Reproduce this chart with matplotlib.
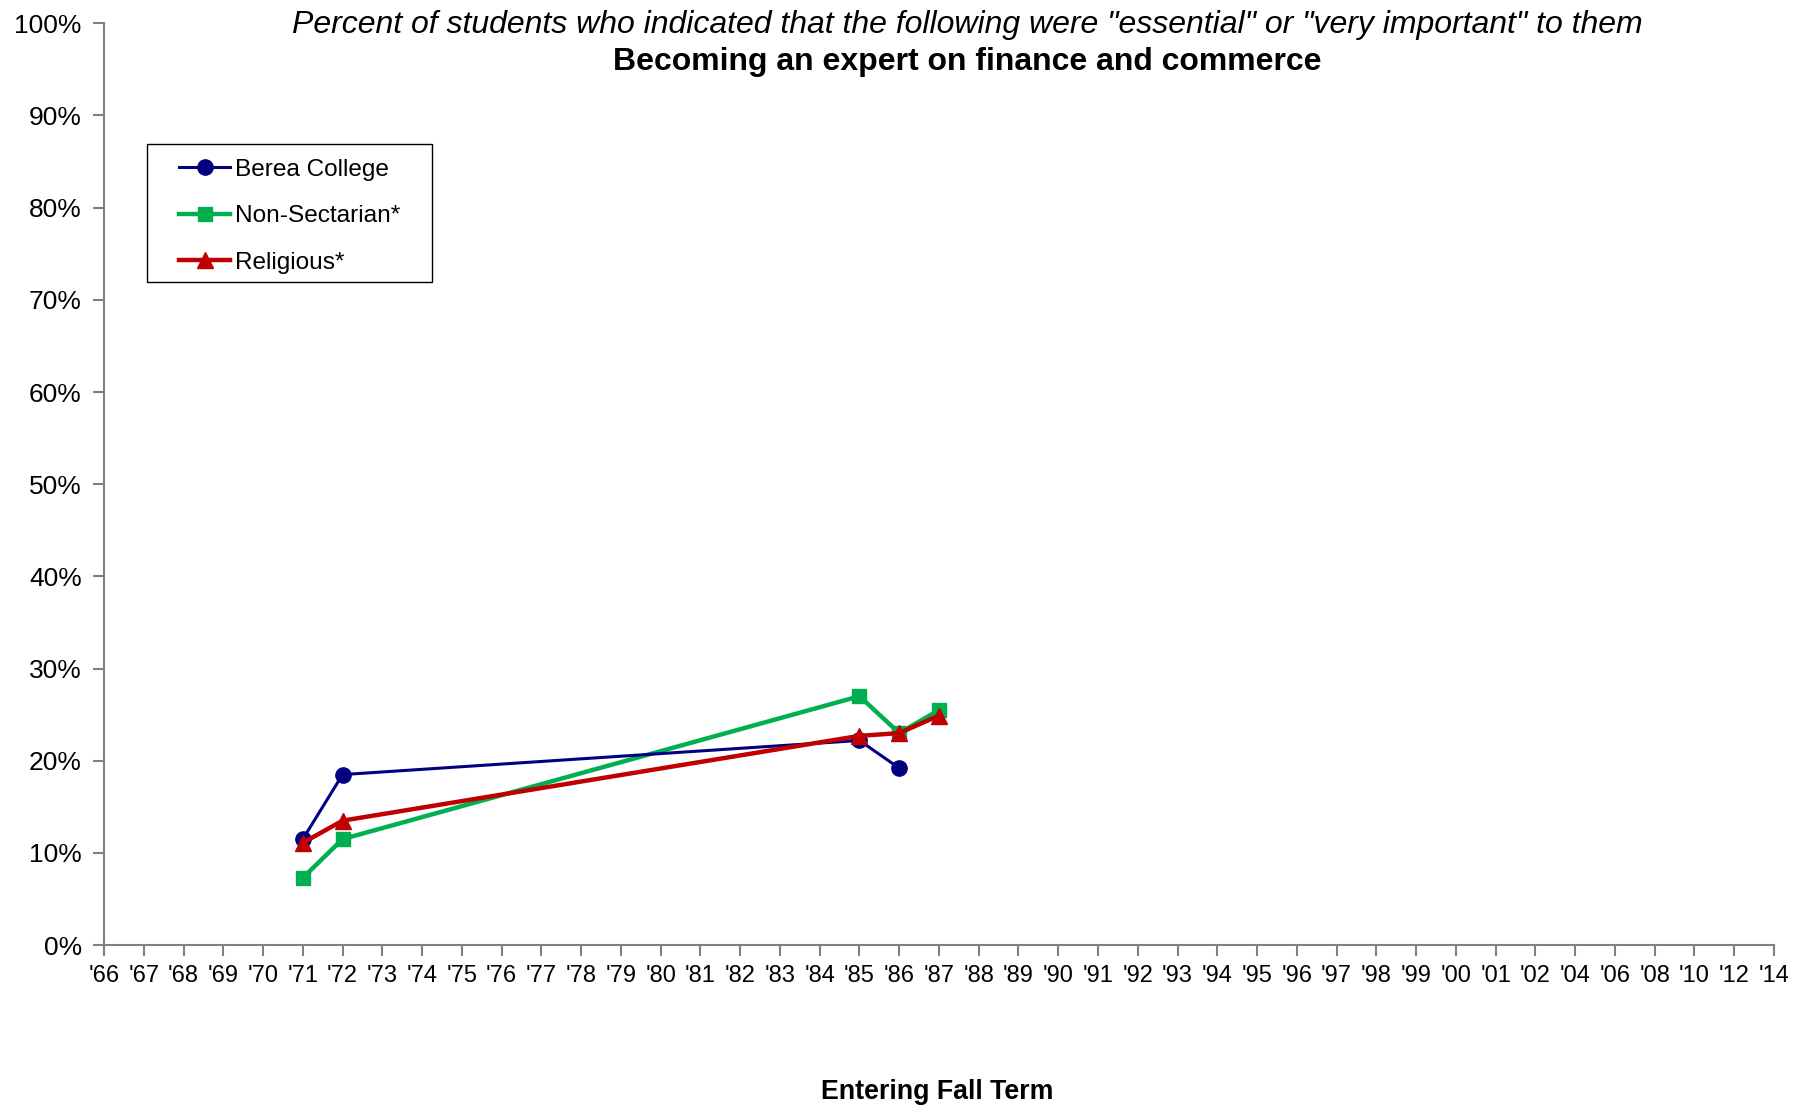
import numpy as np
import matplotlib
matplotlib.use("Agg")
import matplotlib.pyplot as plt
from matplotlib.patches import Rectangle
from matplotlib.ticker import FuncFormatter

plt.rcParams['font.family'] = ['Liberation Sans', 'DejaVu Sans']

years = ["'66", "'67", "'68", "'69", "'70", "'71", "'72", "'73", "'74", "'75", "'76",
         "'77", "'78", "'79", "'80", "'81", "'82", "'83", "'84", "'85", "'86", "'87",
         "'88", "'89", "'90", "'91", "'92", "'93", "'94", "'95", "'96", "'97", "'98",
         "'99", "'00", "'01", "'02", "'04", "'06", "'08", "'10", "'12", "'14"]

berea_years = ["'71", "'72", "'85", "'86"]
berea = [11.5, 18.5, 22.2, 19.2]

nonsec_years = ["'71", "'72", "'85", "'86", "'87"]
nonsec = [7.3, 11.5, 27.0, 23.0, 25.5]

relig_years = ["'71", "'72", "'85", "'86", "'87"]
relig = [11.1, 13.5, 22.7, 23.0, 24.9]

pos = {y: i for i, y in enumerate(years)}

fig = plt.figure(figsize=(18.12, 11.08), dpi=100)
ax = fig.add_axes([0.0574, 0.147, 0.9216, 0.832])

ax.plot([pos[y] for y in berea_years], berea, color='#000080', lw=2.2,
        marker='o', ms=11, label='Berea College', zorder=3)
ax.plot([pos[y] for y in nonsec_years], nonsec, color='#00B050', lw=3.2,
        marker='s', ms=10.5, label='Non-Sectarian*', zorder=2)
ax.plot([pos[y] for y in relig_years], relig, color='#C00000', lw=3.2,
        marker='^', ms=11, label='Religious*', zorder=4)

ax.set_xlim(0, len(years) - 1)
ax.set_ylim(0, 100)
ax.set_yticks(np.arange(0, 101, 10))
ax.yaxis.set_major_formatter(FuncFormatter(lambda v, p: f"{int(v)}%"))
ax.set_xticks(range(len(years)))
ax.set_xticklabels(years)

for s in ['top', 'right']:
    ax.spines[s].set_visible(False)
for s in ['left', 'bottom']:
    ax.spines[s].set_color('#808080')
    ax.spines[s].set_linewidth(1.5)
ax.tick_params(axis='both', direction='out', length=8, width=1.5, color='#808080')
ax.tick_params(axis='y', pad=8, labelsize=19)
ax.tick_params(axis='x', pad=6, labelsize=17)

fig.text(0.534, 0.977, 'Percent of students who indicated that the following were "essential" or "very important" to them',
         ha='center', va='center', fontsize=23, style='italic')
fig.text(0.534, 0.944, 'Becoming an expert on finance and commerce',
         ha='center', va='center', fontsize=23, weight='bold')
fig.text(0.517, 0.0145, 'Entering Fall Term', ha='center', va='center',
         fontsize=19.3, weight='bold')

# legend box drawn separately so the padding matches the Excel look
ax.add_patch(Rectangle((0.0257, 0.719), 0.171, 0.150, transform=ax.transAxes,
                       fill=False, edgecolor='black', lw=1.0, zorder=5))
leg = ax.legend(loc='upper left', bbox_to_anchor=(0.045, 0.853), fontsize=17.6,
                frameon=False, borderpad=0, labelspacing=1.0, handlelength=2.1,
                handletextpad=0.2, borderaxespad=0)

fig.savefig('out.png', dpi=100)
